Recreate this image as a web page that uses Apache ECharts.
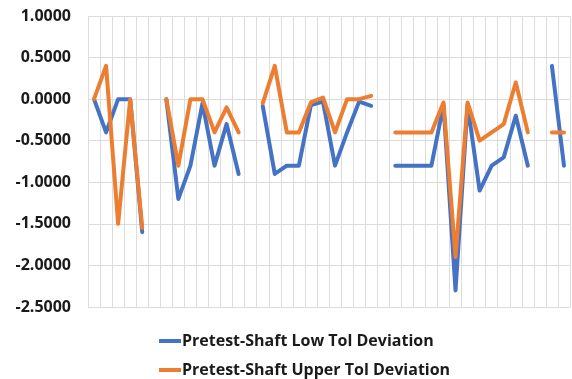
<!DOCTYPE html>
<html>
<head>
<meta charset="utf-8">
<script src="https://cdn.jsdelivr.net/npm/echarts@6/dist/echarts.min.js"></script>
<style>
  html, body { margin: 0; padding: 0; background: #fff; }
  #chart { width: 572px; height: 379px; }
</style>
</head>
<body>
<div id="chart"></div>
<script>
// 40 measurement positions; null marks a position without a reading
const categories = Array.from({ length: 40 }, (_, i) => String(i + 1));

const lowTolDeviation = [
  0.0, -0.4, 0.0, 0.0, -1.6, null,
  0.0, -1.2, -0.8, -0.05, -0.8, -0.3, -0.9, null,
  -0.08, -0.9, -0.8, -0.8, -0.07, -0.03, -0.8, -0.4, -0.03, -0.08, null,
  -0.8, -0.8, -0.8, -0.8, -0.07, -2.3, -0.07, -1.1, -0.8, -0.7, -0.2, -0.8, null,
  0.4, -0.8
];

const upperTolDeviation = [
  0.0, 0.4, -1.5, 0.0, -1.55, null,
  0.0, -0.8, 0.0, 0.0, -0.4, -0.1, -0.4, null,
  -0.05, 0.4, -0.4, -0.4, -0.04, 0.02, -0.4, 0.0, 0.0, 0.04, null,
  -0.4, -0.4, -0.4, -0.4, -0.04, -1.9, -0.04, -0.5, -0.4, -0.3, 0.2, -0.4, null,
  -0.4, -0.4
];

const seriesNames = ['Pretest-Shaft Low Tol Deviation', 'Pretest-Shaft Upper Tol Deviation'];
const seriesColors = ['#4472C4', '#ED7D31'];

const chart = echarts.init(document.getElementById('chart'));

const lineSeries = [lowTolDeviation, upperTolDeviation].map((values, k) => ({
  name: seriesNames[k],
  type: 'line',
  data: values,
  connectNulls: false,
  showSymbol: false,
  symbol: 'none',
  color: seriesColors[k],
  lineStyle: { width: 4, color: seriesColors[k], cap: 'round', join: 'round' },
  emphasis: { disabled: true }
}));

// one legend row per series, stacked below the plot
const legendRows = seriesNames.map((name, k) => ({
  left: 154,
  top: 327 + k * 29,
  itemWidth: 22,
  itemHeight: 4,
  icon: 'rect',
  data: [name],
  textStyle: {
    fontFamily: '"Open Sans", sans-serif',
    fontWeight: 'bold',
    fontSize: 16,
    color: '#1a1a1a',
    lineHeight: 18,
    padding: [0, 0, 0, -4]
  }
}));

chart.setOption({
  animation: false,
  backgroundColor: '#ffffff',
  grid: { left: 88, right: 2, top: 16, bottom: 72, containLabel: false },
  legend: legendRows,
  xAxis: {
    type: 'category',
    data: categories,
    boundaryGap: true,
    axisLine: { show: false },
    axisTick: { show: false },
    axisLabel: { show: false },
    splitLine: { show: true, interval: 0, lineStyle: { color: '#dcdcdc', width: 1 } }
  },
  yAxis: {
    type: 'value',
    min: -2.5,
    max: 1.0,
    interval: 0.5,
    axisLine: { show: false },
    axisTick: { show: false },
    axisLabel: {
      margin: 17,
      fontFamily: '"Open Sans", sans-serif',
      fontWeight: 'bold',
      fontSize: 16,
      color: '#1a1a1a',
      formatter: v => v.toFixed(4)
    },
    splitLine: { show: true, lineStyle: { color: '#dcdcdc', width: 1 } }
  },
  series: lineSeries
});
</script>
</body>
</html>
